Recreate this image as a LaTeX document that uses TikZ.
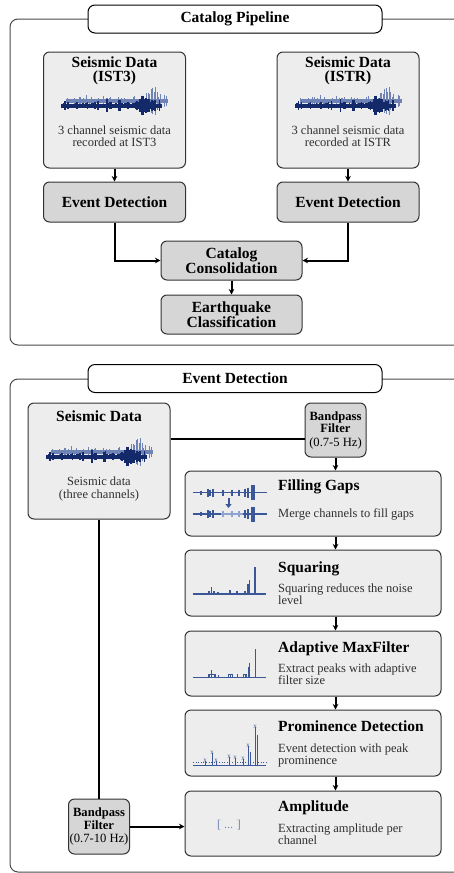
\documentclass[tikz,border=0pt]{standalone}
\usepackage{fontspec}
\setmainfont{Liberation Serif}
\usetikzlibrary{arrows.meta}
\definecolor{navy}{HTML}{13296A}
\definecolor{lightnavy}{HTML}{6F84B5}
\definecolor{midblue}{HTML}{3B5798}
\definecolor{paleblue}{HTML}{8FA3CF}
\definecolor{boxfill}{HTML}{EDEDED}
\definecolor{darkfill}{HTML}{D6D6D6}
\definecolor{edge}{HTML}{333333}
\definecolor{desc}{HTML}{303030}
\definecolor{framec}{HTML}{4A4A4A}

\tikzset{
 panel/.style={draw=edge, line width=1pt, rounded corners=6pt, fill=boxfill, inner sep=0pt},
 darkbox/.style={draw=edge, line width=1pt, rounded corners=6pt, fill=darkfill, inner sep=0pt, align=center, font=\fontsize{15.5}{13.5}\selectfont\bfseries},
 filterbox/.style={draw=edge, line width=1pt, rounded corners=6pt, fill=darkfill, inner sep=0pt, align=center, font=\fontsize{12.6}{12.5}\selectfont},
 flow/.style={line width=2pt, -{Stealth[length=5.5pt,width=5.5pt]}},
 link/.style={line width=2pt},
 frame/.style={draw=framec, line width=1pt, rounded corners=8pt},
 titlebox/.style={draw=black, line width=1pt, rounded corners=7pt, fill=white, minimum width=294pt, minimum height=28pt, inner sep=0pt, font=\fontsize{15.5}{16}\selectfont\bfseries},
 heading/.style={font=\fontsize{15.5}{14}\selectfont\bfseries, align=center, inner sep=0pt, anchor=base},
 bodytext/.style={font=\fontsize{12.5}{12.4}\selectfont, text=desc, align=center, inner sep=0pt, anchor=base},
 steptitle/.style={font=\fontsize{15.5}{16}\selectfont\bfseries, anchor=base west, inner sep=0pt},
 stepdesc/.style={font=\fontsize{12.5}{12}\selectfont, text=desc, anchor=base west, align=left, inner sep=0pt},
 spk/.style={midblue, line width=1.4pt},
 thinspk/.style={midblue, line width=0.8pt},
}

\newcommand{\seiswave}[2]{%
\begin{scope}[shift={(#1,#2)}]
 \pgfmathsetseed{11}
 \fill[lightnavy] (5,-5) rectangle (107,-1);
 \foreach \t in {6,7.5,...,106}{
   \pgfmathsetmacro{\a}{1.5+5*rnd^3+15*exp(max(-15,0-((\t-92)/5)^2))*(0.4+0.6*rnd)}
   \draw[lightnavy,line width=1pt] (\t,-3-\a) -- (\t,-3+\a);
 }
 \fill[navy] (0,-0.5) rectangle (101,3.5);
 \foreach \t in {1,2.5,...,100}{
   \pgfmathsetmacro{\a}{1.5+5*rnd^4+11*exp(max(-15,0-((\t-83)/6)^2))*(0.4+0.6*rnd)}
   \draw[navy,line width=1.1pt] (\t,1.5-\a) -- (\t,1.5+\a);
 }
\end{scope}}

\newcommand{\gapline}[2]{% y, colour of middle part
 \draw[midblue, line width=1.8pt] (193,#1) -- (221,#1);
 \draw[#2, line width=1.8pt] (221,#1) -- (243,#1);
 \draw[midblue, line width=1.8pt] (243,#1) -- (267,#1);
 \foreach \x/\h in {201/2, 208/4, 210/3, 213/4, 245/4, 248/5, 252/7.5, 254/7.5}{
   \draw[midblue, line width=1.2pt] (\x,#1-\h) -- (\x,#1+\h);
 }
 \foreach \x/\h in {223/3, 232/3, 239/3}{
   \draw[#2, line width=1.2pt] (\x,#1-\h) -- (\x,#1+\h);
 }
}

\begin{document}
\begin{tikzpicture}[x=1pt,y=-1pt]
\useasboundingbox (0,0) rectangle (454,873);

% ---------- frames ----------
\begin{scope}
\clip (0,0) rectangle (454,873);
\draw[frame] (10,19) rectangle (480,345);
\draw[frame] (10,379) rectangle (480,872);
\end{scope}
\node[titlebox] (t1) at (235,19) {Catalog Pipeline};
\node[titlebox] (t2) at (235,378.5) {Event Detection};

% ---------- Catalog pipeline ----------
\node[panel, minimum width=142pt, minimum height=116pt] (sd1) at (114.5,110) {};
\node[panel, minimum width=142pt, minimum height=116pt] (sd2) at (348,110) {};
\node[heading] (h1) at (114.5,81) {Seismic Data\\(IST3)};
\node[heading] (h2) at (348,81) {Seismic Data\\(ISTR)};
\seiswave{61}{104}
\seiswave{294.5}{104}
\node[bodytext] (d1) at (114.5,146.5) {3 channel seismic data\\recorded at IST3};
\node[bodytext] (d2) at (348,146.5) {3 channel seismic data\\recorded at ISTR};

\node[darkbox, minimum width=142pt, minimum height=40pt] (ed1) at (114.5,202) {Event Detection};
\node[darkbox, minimum width=142pt, minimum height=40pt] (ed2) at (348,202) {Event Detection};
\node[darkbox, minimum width=141pt, minimum height=39pt] (cc) at (231.5,260.5) {Catalog\\Consolidation};
\node[darkbox, minimum width=141pt, minimum height=39pt] (ec) at (231.5,314.5) {Earthquake\\Classification};

\draw[flow] (sd1.south) -- (ed1.north);
\draw[flow] (sd2.south) -- (ed2.north);
\draw[flow] (ed1.south) |- (cc.west);
\draw[flow] (ed2.south) |- (cc.east);
\draw[flow] (cc.south) -- (ec.north);

% ---------- Event detection ----------
\node[panel, minimum width=142pt, minimum height=116pt] (sd3) at (99,461) {};
\node[heading] (h3) at (99,421.5) {Seismic Data};
\seiswave{46}{455}
\node[bodytext] (d3) at (99,498) {Seismic data\\(three channels)};

\node[filterbox, minimum width=61pt, minimum height=54pt] (bp1) at (335.5,430) {\textbf{Bandpass}\\\textbf{Filter}\\[1pt](0.7-5 Hz)};
\node[filterbox, minimum width=61pt, minimum height=55pt] (bp2) at (99,826.5) {\textbf{Bandpass}\\\textbf{Filter}\\[1pt](0.7-10 Hz)};

\node[panel, minimum width=256pt, minimum height=65pt] (fg) at (313,503.5) {};
\node[panel, minimum width=256pt, minimum height=66pt] (sq) at (313,583) {};
\node[panel, minimum width=256pt, minimum height=65pt] (am) at (313,663.5) {};
\node[panel, minimum width=256pt, minimum height=66pt] (pd) at (313,743) {};
\node[panel, minimum width=256pt, minimum height=65pt] (amp) at (313,823.5) {};

\node[steptitle] (fgt) at (278,490.5) {Filling Gaps};
\node[stepdesc] (fgd) at (278,517) {Merge channels to fill gaps};
\node[steptitle] (sqt) at (278,572) {Squaring};
\node[stepdesc] (sqd) at (278,604) {Squaring reduces the noise\\level};
\node[steptitle] (amt) at (278,652) {Adaptive MaxFilter};
\node[stepdesc] (amd) at (278,684) {Extract peaks with adaptive\\filter size};
\node[steptitle] (pdt) at (278,731) {Prominence Detection};
\node[stepdesc] (pdd) at (278,764) {Event detection with peak\\prominence};
\node[steptitle] (ampt) at (278,811) {Amplitude};
\node[stepdesc] (ampd) at (278,844) {Extracting amplitude per\\channel};

% filling gaps icon
\gapline{492.5}{midblue}
\gapline{514}{paleblue}
\draw[midblue, line width=2pt, -{Triangle[length=4pt,width=6pt]}] (228.5,498) -- (228.5,508);

% squaring icon
\draw[midblue, line width=1.4pt] (193,594) -- (266,594);
\foreach \x/\h in {209/3, 211.5/7, 214/3, 218/2, 230/4, 237/3, 245/3, 248/10, 249.5/14, 255/27}{
  \draw[spk] (\x,594) -- (\x,594-\h);
}

% adaptive maxfilter icon
\draw[midblue, line width=0.9pt] (193,677) -- (266,677);
\foreach \x/\h in {209/3, 211.5/7, 214/3, 218/2, 230/3, 237/3, 245/3, 248/10, 249.5/14, 255/28}{
  \draw[thinspk] (\x,677) -- (\x,677-\h);
}
\draw[thinspk] (208,677) -- (208,674) -- (215,674) -- (215,677);
\draw[thinspk] (228,677) -- (228,674.5) -- (232,674.5) -- (232,677);
\draw[thinspk] (243,677) -- (243,674.5) -- (246,674.5) -- (246,677);

% prominence icon
\draw[midblue, line width=0.9pt] (193,765) -- (266,765);
\draw[midblue, line width=0.6pt, dotted] (193,762) -- (266,762);
\foreach \x/\h in {205/4, 212/12, 216/4, 229/8, 235/7, 243/6, 248/19, 255/38}{
  \draw[thinspk, line width=1pt] (\x,765) -- (\x,765-\h);
  \node[midblue, inner sep=0pt, font=\fontsize{7}{7}\selectfont] at (\x,765-\h) {x};
}
\draw[thinspk] (250,765) -- (250,752);
\draw[thinspk] (257,765) -- (257,735);

% amplitude icon
\node[text=lightnavy, inner sep=0pt, font=\fontsize{12}{12}\selectfont] (ampi) at (229,825) {[ ... ]};

% connectors
\path (bp1.west) ++(0,9) coordinate (j1);
\draw[link] (j1) -- (j1 -| sd3.east);
\draw[flow] (bp1.south) -- (bp1.south |- fg.north);
\draw[flow] (fg.south -| bp1.south) -- (sq.north -| bp1.south);
\draw[flow] (sq.south -| bp1.south) -- (am.north -| bp1.south);
\draw[flow] (am.south -| bp1.south) -- (pd.north -| bp1.south);
\draw[flow] (pd.south -| bp1.south) -- (amp.north -| bp1.south);
\draw[link] (sd3.south) -- (bp2.north);
\draw[flow] (bp2.east) -- (bp2.east -| amp.west);
\end{tikzpicture}
\end{document}
